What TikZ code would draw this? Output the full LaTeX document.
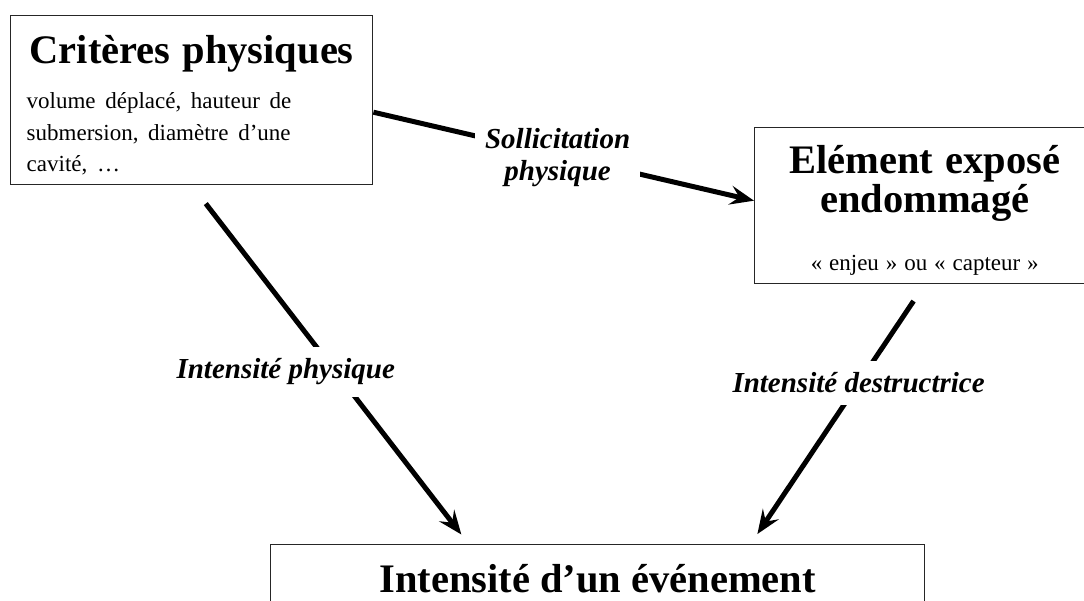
\documentclass[tikz,border=0pt]{standalone}
\usepackage{fontspec}
\setmainfont{Liberation Serif}
\usetikzlibrary{arrows.meta,positioning,calc}
\setlength{\parindent}{0pt}
\tikzset{
  framebox/.style={draw=black!85, line width=1.4pt, fill=white, anchor=north west,
    inner xsep=16pt, inner ysep=0pt},
  lbl/.style={fill=white, inner xsep=10pt, inner ysep=12pt, align=center,
    font=\bfseries\itshape\fontsize{29}{32}\selectfont},
  arr/.style={-{Stealth[length=24pt, width=19pt, inset=9pt]}, line width=5pt}
}

\begin{document}
\begin{tikzpicture}[x=1pt, y=-1pt]
  \useasboundingbox (0,0) rectangle (1084,600);
  \node[framebox, text width=330pt] (crit) at (10,15)
    {\centering\bfseries\fontsize{40.5}{45}\selectfont\spaceskip=.3em
     \rule{0pt}{48pt}Critères physiques\par
     \vspace{13.5pt}\raggedright\mdseries\fontsize{23}{31.5}\selectfont\spaceskip=.42em
     volume déplacé, hauteur de\\ submersion, diamètre d’une\\
     cavité, \ldots\rule[-13pt]{0pt}{1pt}\par};
  \node[framebox, text width=308pt] (expo) at (754,127)
    {\centering\bfseries\fontsize{40.5}{39}\selectfont\spaceskip=.3em
     \rule{0pt}{46pt}Elément exposé\\ endommagé\par
     \vspace{27pt}\mdseries\fontsize{23}{31}\selectfont\spaceskip=.3em
     «~enjeu~» ou «~capteur~»\rule[-13pt]{0pt}{1pt}\par};
  \node[framebox, minimum width=654pt, minimum height=68pt,
    font=\bfseries\fontsize{40.5}{45}\selectfont] (evt) at (270,544)
    {Intensité d’un événement};
  % fleches
  \draw[arr] ([yshift=-12pt]crit.east) -- node[lbl, pos=0.484, yshift=-3pt] (soll) {Sollicitation\\ physique}
    ([yshift=5pt]expo.west);
  \draw[arr, shorten <=23pt, shorten >=12pt] (crit.south) -- node[lbl, pos=0.52, xshift=-50pt] (iphys)
    {Intensité physique} ([xshift=-129pt]evt.north);
  \draw[arr, shorten <=20pt, shorten >=12pt] (expo.south) -- node[lbl, pos=0.38] (idest)
    {Intensité destructrice} ([xshift=153pt]evt.north);
\end{tikzpicture}
\end{document}
